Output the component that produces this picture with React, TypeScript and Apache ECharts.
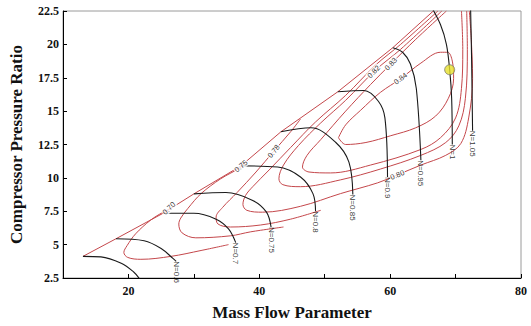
import React, { useEffect, useRef } from "react";
import * as echarts from "echarts";

type Pt = [number, number];

// Surge line (left boundary of the map)
const surgeLine: Pt[] = [
  [13.05, 4.12], [18.1, 5.44], [25.3, 7.35], [30.0, 8.8], [37.2, 10.9],
  [43.3, 13.45], [52.0, 16.45], [60.4, 19.75], [66.6, 22.5],
];

// Corrected speed lines
const speedNames = ["N=0.5", "N=0.6", "N=0.7", "N=0.75", "N=0.8", "N=0.85", "N=0.9", "N=0.95", "N=1", "N=1.05"];
const n050: Pt[] = [[13.05, 4.12], [15.8, 4.08], [18.9, 3.6], [20.8, 2.95], [21.6, 2.5], [21.8, 2.3]];
const n060: Pt[] = [[18.1, 5.44], [22.4, 5.29], [25.0, 4.71], [26.8, 3.97], [27.3, 3.75]];
const n070: Pt[] = [[25.3, 7.35], [30.0, 7.35], [33.4, 6.91], [35.3, 6.18], [36.4, 5.15]];
const n075: Pt[] = [[30.0, 8.8], [34.9, 8.9], [39.0, 8.31], [41.1, 7.43], [41.8, 6.32]];
const n080: Pt[] = [[37.2, 10.9], [42.8, 10.81], [46.3, 10.07], [48.2, 8.82], [48.6, 7.5]];
const n085: Pt[] = [[43.3, 13.45], [47.9, 13.75], [51.7, 12.65], [53.7, 11.18], [54.3, 8.75]];
const n090: Pt[] = [[52.0, 16.45], [56.0, 16.54], [58.2, 15.74], [59.2, 14.49], [59.6, 10.07]];
const n095: Pt[] = [[60.4, 19.75], [61.9, 19.41], [63.1, 18.53], [64.0, 16.69], [64.7, 11.32]];
const n100: Pt[] = [[66.2, 22.9], [67.7, 21.47], [68.6, 20.0], [69.1, 18.09], [69.4, 15.96], [69.5, 12.5]];
const n105: Pt[] = [[72.3, 22.6], [72.45, 18.9], [72.6, 13.53]];
const speedLines = [n050, n060, n070, n075, n080, n085, n090, n095, n100, n105];

// Isentropic efficiency contours
const effLevels = [0.7, 0.75, 0.78, 0.8, 0.82, 0.83, 0.84];
const eff070: Pt[] = [
  [35.3, 5.0], [31.1, 4.56], [26.5, 4.12], [21.9, 3.9], [19.9, 4.04], [19.3, 4.41],
  [19.8, 4.93], [21.1, 5.81], [23.4, 6.84], [25.3, 7.43], [26.8, 7.79],
];
const eff075: Pt[] = [
  [43.7, 6.32], [38.7, 5.96], [35.6, 5.66], [30.3, 5.51], [28.2, 5.88], [27.7, 6.54],
  [28.0, 6.99], [29.1, 7.72], [31.1, 8.82], [34.1, 9.93], [37.2, 10.81], [38.1, 11.32],
];
const eff078: Pt[] = [
  [49.4, 7.57], [44.8, 6.91], [40.2, 6.47], [35.6, 6.32], [33.7, 6.54], [33.4, 7.06],
  [34.4, 7.79], [36.6, 8.9], [39.5, 10.44], [42.2, 11.99], [44.8, 13.46], [46.3, 14.41],
];
const eff080: Pt[] = [
  [72.1, 22.5], [72.4, 20.37], [72.6, 17.43], [72.0, 14.49], [70.8, 12.57], [68.5, 11.69],
  [64.7, 10.96], [61.1, 10.22], [58.1, 9.63], [52.4, 8.82], [46.3, 7.87], [40.5, 7.43],
  [38.1, 7.57], [37.5, 8.01], [37.9, 8.68], [39.0, 9.34], [41.5, 10.59], [44.8, 12.28],
  [48.6, 14.19], [53.2, 16.18], [57.8, 18.46], [61.6, 20.0], [67.3, 22.5],
];
const eff082: Pt[] = [
  [71.7, 22.5], [71.8, 19.63], [71.5, 15.96], [70.5, 13.9], [68.5, 12.65], [64.7, 11.69],
  [58.5, 10.66], [52.4, 9.85], [46.3, 9.34], [43.6, 9.49], [43.0, 9.93], [43.7, 10.96],
  [46.0, 12.43], [49.4, 14.12], [53.2, 15.81], [57.8, 18.09], [61.6, 19.63], [67.9, 22.5],
];
const eff083: Pt[] = [
  [70.9, 22.5], [71.1, 19.63], [70.9, 16.69], [70.0, 14.49], [67.7, 13.01], [64.7, 12.13],
  [57.0, 10.96], [50.9, 10.37], [47.6, 10.44], [46.6, 10.81], [47.3, 11.69], [49.4, 12.87],
  [53.2, 15.0], [57.0, 16.99], [60.1, 18.53], [63.9, 20.37], [68.6, 22.5],
];
const eff084: Pt[] = [
  [52.1, 13.01], [53.2, 12.5], [56.3, 12.65], [60.1, 13.16], [63.9, 13.75], [66.95, 14.63],
  [68.9, 15.96], [69.7, 17.43], [69.5, 18.75], [68.8, 19.41], [67.7, 19.41], [64.7, 18.6],
  [61.6, 17.43], [58.5, 16.4], [55.5, 15.07], [53.2, 13.97], [52.1, 13.01],
];
const effContours = [eff070, eff075, eff078, eff080, eff082, eff083, eff084];
const effLabelAt: Pt[] = [
  [26.2, 7.72], [37.2, 10.88], [42.2, 11.99], [61.1, 10.22], [57.5, 17.94], [60.1, 18.53], [61.6, 17.43],
];

// Design point
const designPoint: Pt = [69.1, 18.1];

const SERIF = "'Liberation Serif', 'Times New Roman', serif";
const SANS = "'Liberation Sans', Arial, sans-serif";
const RED = "#c4474b";
const BLACK = "#1a1a1a";
const labelAngles = [45, 40, 50, 22, 46, 47, 37];

function buildOption(): echarts.EChartsOption {
  const series: any[] = [];

  series.push({
    type: "line",
    data: surgeLine,
    showSymbol: false,
    lineStyle: { color: RED, width: 1 },
    z: 2,
  });

  effContours.forEach((pts) => {
    series.push({
      type: "line",
      data: pts,
      showSymbol: false,
      smooth: 0.35,
      lineStyle: { color: RED, width: 1 },
      z: 2,
    });
  });

  speedLines.forEach((pts) => {
    series.push({
      type: "line",
      data: pts,
      showSymbol: false,
      smooth: 0.35,
      lineStyle: { color: BLACK, width: 1.1 },
      z: 3,
    });
  });

  // contour value labels
  series.push({
    type: "scatter",
    symbolSize: 0,
    z: 5,
    itemStyle: { color: "#000" },
    data: effLevels.map((lv, i) => ({ value: effLabelAt[i], name: lv.toFixed(2) })),
    label: {
      show: true,
      position: "inside",
      formatter: "{b}",
      fontFamily: SANS,
      fontSize: 7.5,
      color: "#000",
      textBorderWidth: 0,
      textBorderColor: "transparent",
      backgroundColor: "#fff",
      padding: [0, 1],
    },
    labelLayout: (p: any) => ({ rotate: labelAngles[p.dataIndex] }),
  });

  // speed labels at the end of each speed line
  const speedEnds = speedLines
    .map((pts, i) => ({ value: pts[pts.length - 1], name: speedNames[i] }))
    .filter((d) => d.value[1] >= 2.5);
  series.push({
    type: "scatter",
    symbolSize: 0,
    z: 5,
    itemStyle: { color: "#000" },
    data: speedEnds,
    label: {
      show: true,
      position: "inside",
      formatter: "{b}",
      fontFamily: SANS,
      fontSize: 8,
      color: "#000",
      textBorderWidth: 0,
      textBorderColor: "transparent",
      align: "left",
      verticalAlign: "middle",
      rotate: -90,
    },
  });

  series.push({
    type: "scatter",
    data: [designPoint],
    symbolSize: 10,
    itemStyle: { color: "#e6e02a", borderColor: "#7a7a6a", borderWidth: 1 },
    z: 6,
  });

  return {
    animation: false,
    backgroundColor: "#fff",
    grid: { left: 62, right: 10, top: 11, bottom: 43, show: true, borderColor: "#9a9a9a", borderWidth: 1 },
    xAxis: {
      type: "value",
      min: 10,
      max: 80,
      interval: 10,
      axisLine: { lineStyle: { color: "#000", width: 1 } },
      axisTick: { inside: true, length: 4, lineStyle: { color: "#000" } },
      axisLabel: {
        formatter: (v: number) => (v % 20 === 0 ? String(v) : ""),
        fontFamily: SERIF,
        fontWeight: "bold",
        fontSize: 12,
        color: "#111",
        margin: 7,
      },
      splitLine: { show: false },
      name: "Mass Flow Parameter",
      nameLocation: "middle",
      nameGap: 26,
      nameTextStyle: { fontFamily: SERIF, fontWeight: "bold", fontSize: 17, color: "#111" },
    },
    yAxis: {
      type: "value",
      min: 2.5,
      max: 22.5,
      interval: 2.5,
      axisLine: { show: true, lineStyle: { color: "#000", width: 1 } },
      axisTick: { show: true, inside: true, length: 4, lineStyle: { color: "#000" } },
      axisLabel: {
        fontFamily: SERIF,
        fontWeight: "bold",
        fontSize: 12,
        color: "#111",
        margin: 4,
      },
      splitLine: { show: false },
      name: "Compressor Pressure Ratio",
      nameLocation: "middle",
      nameGap: 38,
      nameTextStyle: { fontFamily: SERIF, fontWeight: "bold", fontSize: 17, color: "#111" },
    },
    series,
  };
}

export default function App() {
  const ref = useRef<HTMLDivElement>(null);
  useEffect(() => {
    if (!ref.current) return;
    const chart = echarts.init(ref.current, undefined, { renderer: "svg" });
    chart.setOption(buildOption());
    return () => chart.dispose();
  }, []);
  return (
    <div
      ref={ref}
      style={{ position: "fixed", left: 0, top: 0, width: 531, height: 326, background: "#fff" }}
    />
  );
}
